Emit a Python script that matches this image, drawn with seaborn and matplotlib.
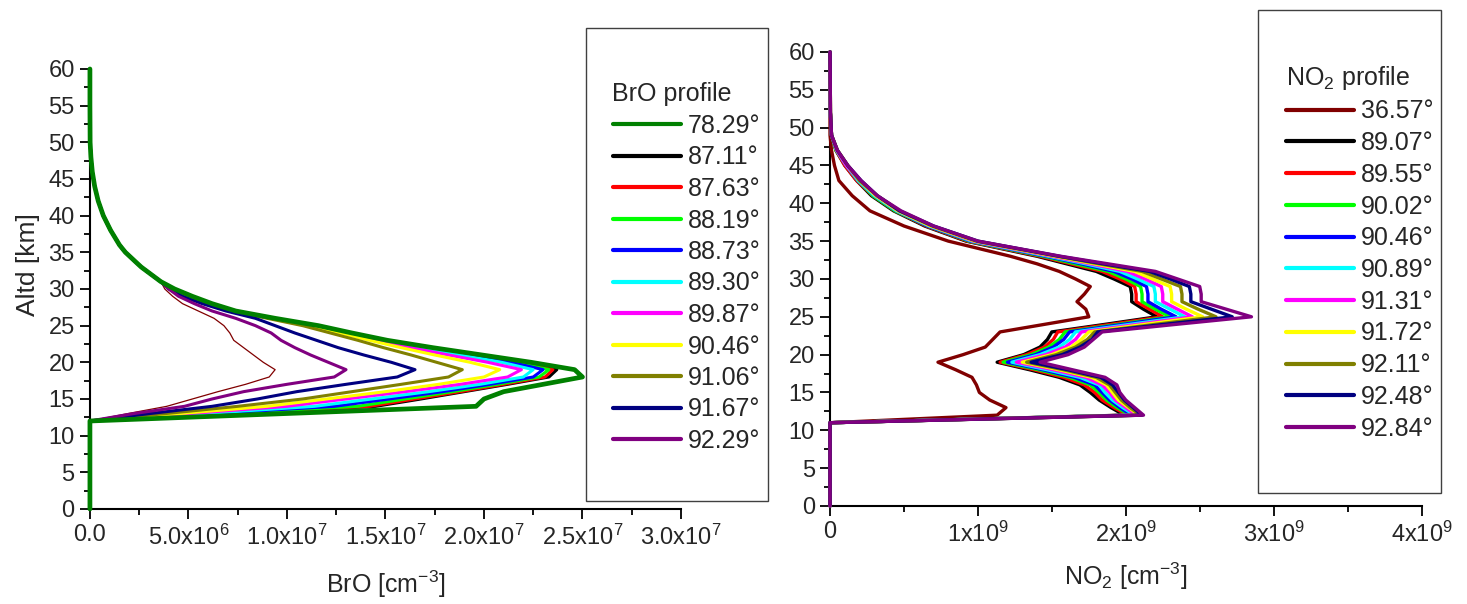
import pandas as pd
import matplotlib
matplotlib.use("Agg")
import matplotlib.pyplot as plt
import seaborn as sns
from matplotlib.ticker import MultipleLocator
from matplotlib.patches import Rectangle

# ---------------- BrO profiles (values in 1e7 cm^-3) ----------------
bro_alt_low = [0, 12, 13, 14, 15, 16, 17, 18, 19, 20, 21, 22, 23, 24, 25, 26, 27, 28, 29, 30]
bro_alt_top = [31, 32, 33, 34, 35, 36, 38, 40, 42, 44, 46, 48, 50, 55, 60]
bro_top = [0.36, 0.31, 0.26, 0.22, 0.18, 0.15, 0.105, 0.068, 0.042, 0.024, 0.012, 0.005, 0.001, 0, 0]

bro_thin = [0, 0, 0.19, 0.39, 0.52, 0.65, 0.79, 0.91, 0.94, 0.88, 0.83, 0.78, 0.73, 0.71, 0.68, 0.63, 0.55, 0.47, 0.42, 0.38]
bro_7829 = [0, 0, 0.98, 1.96, 2.00, 2.10, 2.30, 2.50, 2.46, 2.24, 1.99, 1.74, 1.51, 1.33, 1.16, 0.94, 0.74, 0.62, 0.52, 0.43]
bro_8711 = [0, 0, 0.73, 1.45, 1.68, 1.90, 2.12, 2.33, 2.37, 2.18, 1.96, 1.73, 1.50, 1.31, 1.13, 0.93, 0.74, 0.61, 0.51, 0.42]
bro_8763 = [0, 0, 0.71, 1.42, 1.65, 1.88, 2.10, 2.31, 2.35, 2.17, 1.95, 1.72, 1.50, 1.31, 1.13, 0.93, 0.74, 0.61, 0.51, 0.42]
bro_8819 = [0, 0, 0.68, 1.36, 1.60, 1.84, 2.07, 2.28, 2.33, 2.16, 1.94, 1.71, 1.49, 1.30, 1.12, 0.92, 0.74, 0.61, 0.51, 0.42]
bro_8873 = [0, 0, 0.62, 1.24, 1.52, 1.79, 2.03, 2.25, 2.30, 2.14, 1.92, 1.70, 1.49, 1.30, 1.12, 0.92, 0.73, 0.61, 0.51, 0.42]
bro_8930 = [0, 0, 0.57, 1.14, 1.43, 1.72, 1.98, 2.20, 2.25, 2.09, 1.88, 1.67, 1.48, 1.30, 1.12, 0.92, 0.73, 0.61, 0.51, 0.42]
bro_8987 = [0, 0, 0.50, 1.00, 1.30, 1.60, 1.88, 2.12, 2.19, 2.02, 1.82, 1.63, 1.46, 1.29, 1.12, 0.92, 0.73, 0.61, 0.51, 0.42]
bro_9046 = [0, 0, 0.45, 0.90, 1.20, 1.50, 1.77, 2.00, 2.08, 1.93, 1.75, 1.58, 1.42, 1.27, 1.10, 0.92, 0.73, 0.60, 0.50, 0.42]
bro_9106 = [0, 0, 0.38, 0.75, 1.08, 1.33, 1.58, 1.82, 1.89, 1.76, 1.63, 1.49, 1.36, 1.22, 1.08, 0.90, 0.72, 0.60, 0.50, 0.42]
bro_9167 = [0, 0, 0.30, 0.62, 0.85, 1.05, 1.30, 1.56, 1.65, 1.53, 1.39, 1.26, 1.15, 1.04, 0.94, 0.84, 0.69, 0.57, 0.47, 0.40]
bro_9229 = [0, 0, 0.22, 0.48, 0.62, 0.78, 1.00, 1.24, 1.30, 1.21, 1.12, 1.04, 0.97, 0.92, 0.84, 0.74, 0.62, 0.53, 0.45, 0.40]

bro_labels = ["78.29°", "87.11°", "87.63°", "88.19°", "88.73°", "89.30°",
              "89.87°", "90.46°", "91.06°", "91.67°", "92.29°"]
bro_series = [bro_7829, bro_8711, bro_8763, bro_8819, bro_8873, bro_8930,
              bro_8987, bro_9046, bro_9106, bro_9167, bro_9229]
bro_colors = ["#008000", "#000000", "#ff0000", "#00ff00", "#0000ff", "#00ffff",
              "#ff00ff", "#ffff00", "#808000", "#000080", "#800080"]

# ---------------- NO2 profiles (values in 1e9 cm^-3) ----------------
no2_alt = [0, 11, 12, 13, 14, 15, 16, 17, 18, 19, 20, 21, 22, 23, 24, 25, 26, 27, 28, 29,
           30, 31, 32, 33, 35, 37, 39, 41, 43, 45, 47, 49, 52, 60]
no2_3657 = [0, 0, 1.13, 1.19, 1.08, 1.01, 0.99, 0.96, 0.85, 0.73, 0.90, 1.05, 1.10, 1.15, 1.45, 1.75, 1.73, 1.67, 1.72, 1.76,
            1.66, 1.55, 1.40, 1.22, 0.80, 0.50, 0.27, 0.15, 0.06, 0.03, 0.01, 0, 0, 0]
no2_8907 = [0, 0, 1.99, 1.90, 1.82, 1.76, 1.69, 1.55, 1.35, 1.13, 1.31, 1.42, 1.47, 1.50, 1.86, 2.21, 2.12, 2.04, 2.04, 2.03,
            1.92, 1.80, 1.60, 1.40, 0.92, 0.64, 0.43, 0.28, 0.18, 0.10, 0.04, 0.01, 0.002, 0]
no2_8955 = [0, 0, 2.01, 1.92, 1.84, 1.79, 1.72, 1.58, 1.38, 1.15, 1.33, 1.45, 1.51, 1.54, 1.90, 2.25, 2.16, 2.07, 2.07, 2.06,
            1.96, 1.84, 1.63, 1.42, 0.93, 0.65, 0.44, 0.29, 0.18, 0.10, 0.04, 0.01, 0.002, 0]
no2_9002 = [0, 0, 2.03, 1.94, 1.87, 1.82, 1.76, 1.62, 1.41, 1.17, 1.36, 1.48, 1.55, 1.59, 1.95, 2.30, 2.20, 2.11, 2.11, 2.10,
            2.00, 1.88, 1.66, 1.44, 0.94, 0.66, 0.44, 0.29, 0.19, 0.11, 0.04, 0.01, 0.002, 0]
no2_9046 = [0, 0, 2.04, 1.96, 1.89, 1.84, 1.79, 1.65, 1.44, 1.20, 1.39, 1.51, 1.58, 1.62, 1.98, 2.34, 2.24, 2.15, 2.15, 2.14,
            2.04, 1.92, 1.70, 1.46, 0.95, 0.66, 0.45, 0.30, 0.19, 0.11, 0.045, 0.01, 0.002, 0]
no2_9089 = [0, 0, 2.06, 1.98, 1.91, 1.86, 1.82, 1.69, 1.47, 1.23, 1.42, 1.55, 1.62, 1.66, 2.03, 2.40, 2.30, 2.20, 2.20, 2.19,
            2.08, 1.96, 1.73, 1.48, 0.96, 0.67, 0.45, 0.30, 0.19, 0.11, 0.045, 0.01, 0.002, 0]
no2_9131 = [0, 0, 2.07, 2.00, 1.93, 1.89, 1.84, 1.73, 1.51, 1.26, 1.46, 1.59, 1.66, 1.70, 2.08, 2.45, 2.35, 2.25, 2.25, 2.24,
            2.13, 2.01, 1.76, 1.50, 0.97, 0.68, 0.46, 0.31, 0.20, 0.11, 0.045, 0.01, 0.002, 0]
no2_9172 = [0, 0, 2.09, 2.02, 1.95, 1.91, 1.87, 1.77, 1.55, 1.30, 1.50, 1.63, 1.70, 1.75, 2.13, 2.52, 2.41, 2.31, 2.31, 2.30,
            2.18, 2.06, 1.79, 1.52, 0.98, 0.68, 0.46, 0.31, 0.20, 0.12, 0.05, 0.01, 0.003, 0]
no2_9211 = [0, 0, 2.10, 2.03, 1.97, 1.93, 1.89, 1.80, 1.58, 1.33, 1.53, 1.66, 1.74, 1.79, 2.20, 2.61, 2.49, 2.38, 2.38, 2.37,
            2.24, 2.11, 1.82, 1.54, 0.99, 0.69, 0.47, 0.32, 0.20, 0.12, 0.05, 0.01, 0.003, 0]
no2_9248 = [0, 0, 2.11, 2.05, 1.99, 1.95, 1.91, 1.83, 1.61, 1.36, 1.57, 1.69, 1.77, 1.81, 2.26, 2.72, 2.58, 2.44, 2.44, 2.43,
            2.30, 2.16, 1.85, 1.55, 1.00, 0.70, 0.47, 0.32, 0.21, 0.12, 0.05, 0.01, 0.003, 0]
no2_9284 = [0, 0, 2.12, 2.06, 2.00, 1.96, 1.94, 1.86, 1.64, 1.42, 1.61, 1.72, 1.78, 1.84, 2.34, 2.85, 2.68, 2.51, 2.51, 2.50,
            2.35, 2.20, 1.88, 1.56, 1.00, 0.70, 0.48, 0.32, 0.21, 0.12, 0.05, 0.01, 0.003, 0]

no2_labels = ["36.57°", "89.07°", "89.55°", "90.02°", "90.46°", "90.89°",
              "91.31°", "91.72°", "92.11°", "92.48°", "92.84°"]
no2_series = [no2_3657, no2_8907, no2_8955, no2_9002, no2_9046, no2_9089,
              no2_9131, no2_9172, no2_9211, no2_9248, no2_9284]
no2_colors = ["#800000", "#000000", "#ff0000", "#00ff00", "#0000ff", "#00ffff",
              "#ff00ff", "#ffff00", "#808000", "#000080", "#800080"]

bro_xticks = [0, 5e6, 1e7, 1.5e7, 2e7, 2.5e7, 3e7]
bro_xticklabels = ["0.0", "5.0x10$^{6}$", "1.0x10$^{7}$", "1.5x10$^{7}$",
                   "2.0x10$^{7}$", "2.5x10$^{7}$", "3.0x10$^{7}$"]
no2_xticks = [0, 1e9, 2e9, 3e9, 4e9]
no2_xticklabels = ["0", "1x10$^{9}$", "2x10$^{9}$", "3x10$^{9}$", "4x10$^{9}$"]

sns.set_theme(style="ticks")
plt.rcParams["font.family"] = ["Liberation Sans", "DejaVu Sans"]
plt.rcParams["mathtext.default"] = "regular"

fig = plt.figure(figsize=(14.67, 6.04), dpi=100)
ax1 = fig.add_axes([0.0613, 0.1573, 0.4029, 0.7285])
ax2 = fig.add_axes([0.5658, 0.1623, 0.4032, 0.7517])


def draw(ax, alt, vals, scale, color, lw, label=None):
    df = pd.DataFrame({"conc": [v * scale for v in vals], "alt": alt})
    sns.lineplot(data=df, x="conc", y="alt", sort=False, estimator=None,
                 color=color, lw=lw, ax=ax, label=label, clip_on=False, zorder=3)


# ---- left: BrO ----
bro_alt = bro_alt_low + bro_alt_top
draw(ax1, bro_alt, bro_thin + bro_top, 1e7, "#800000", 0.9)
for lab, vals, col in list(zip(bro_labels, bro_series, bro_colors))[1:]:
    draw(ax1, bro_alt, vals + bro_top, 1e7, col, 2.2, lab)
draw(ax1, bro_alt, bro_series[0] + bro_top, 1e7, bro_colors[0], 3.4, bro_labels[0])

# ---- right: NO2 ----
for lab, vals, col in zip(no2_labels, no2_series, no2_colors):
    draw(ax2, no2_alt, vals, 1e9, col, 2.4, lab)

for ax in (ax1, ax2):
    ax.set_ylim(0, 60)
    ax.yaxis.set_major_locator(MultipleLocator(5))
    ax.yaxis.set_minor_locator(MultipleLocator(2.5))
    sns.despine(ax=ax)
    for s in ("left", "bottom"):
        ax.spines[s].set_linewidth(1.5)
        ax.spines[s].set_color("black")
    ax.tick_params(which="major", direction="out", length=7, width=1.3,
                   labelsize=17, color="black", pad=4)
    ax.tick_params(which="minor", direction="out", length=4, width=1.3, color="black")
    ax.set_ylabel("")

ax1.set_xlim(0, 3e7)
ax1.set_xticks(bro_xticks, bro_xticklabels)
ax1.xaxis.set_minor_locator(MultipleLocator(2.5e6))
ax1.set_xlabel("BrO [cm$^{-3}$]", fontsize=18, labelpad=14)
ax1.set_ylabel("Altd [km]", fontsize=19)
ax1.yaxis.set_label_coords(-0.084, 0.555)

ax2.set_xlim(0, 4e9)
ax2.set_xticks(no2_xticks, no2_xticklabels)
ax2.xaxis.set_minor_locator(MultipleLocator(5e8))
ax2.set_xlabel("NO$_{2}$ [cm$^{-3}$]", fontsize=18, labelpad=10)

# legends (frame drawn separately to match the tall box)
h, l = ax1.get_legend_handles_labels()
order = [l.index(x) for x in bro_labels]
ax1.legend([h[i] for i in order], [l[i] for i in order], title="BrO profile",
           loc="upper left", bbox_to_anchor=(600 / 1467, 1 - 70 / 604),
           bbox_transform=fig.transFigure, frameon=False, fontsize=18,
           title_fontsize=18, alignment="left", borderpad=0,
           handlelength=2.75, handletextpad=0.25, labelspacing=0.30)
for ln in ax1.get_legend().get_lines():
    ln.set_linewidth(3.0)

h, l = ax2.get_legend_handles_labels()
ax2.legend(h, l, title="NO$_{2}$ profile",
           loc="upper left", bbox_to_anchor=(1273 / 1467, 1 - 51 / 604),
           bbox_transform=fig.transFigure, frameon=False, fontsize=18,
           title_fontsize=18, alignment="left", borderpad=0,
           handlelength=2.75, handletextpad=0.25, labelspacing=0.31)
for ln in ax2.get_legend().get_lines():
    ln.set_linewidth(3.0)

fig.patches.append(Rectangle((585.7 / 1467, 1 - 501 / 604), 182.3 / 1467, 473 / 604,
                             transform=fig.transFigure, fill=False,
                             edgecolor="#404040", lw=1.0))
fig.patches.append(Rectangle((1258.3 / 1467, 1 - 493 / 604), 182.7 / 1467, 483 / 604,
                             transform=fig.transFigure, fill=False,
                             edgecolor="#404040", lw=1.0))

fig.savefig("out.png", dpi=100)
